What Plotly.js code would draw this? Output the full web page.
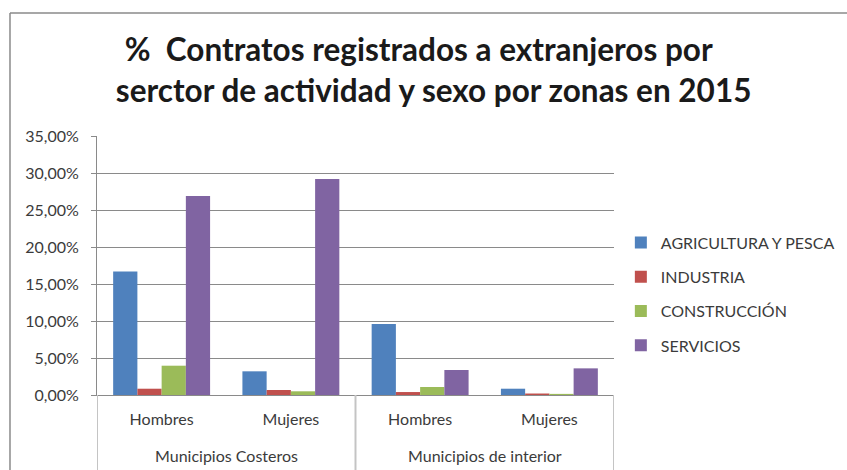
<!DOCTYPE html>
<html>
<head>
<meta charset="utf-8">
<script src="https://cdn.plot.ly/plotly-3.0.1.min.js"></script>
<style>html,body{margin:0;padding:0;background:#fff}#chart{width:847px;height:470px}</style>
</head>
<body>
<div id="chart"></div>
<script>
var zonas = ["Municipios Costeros", "Municipios de interior"];
var sexos = ["Hombres", "Mujeres", "Hombres", "Mujeres"];
var seriesNames = ["AGRICULTURA Y PESCA", "INDUSTRIA", "CONSTRUCCIÓN", "SERVICIOS"];
var agricultura = [0.167, 0.032, 0.096, 0.0085];
var industria = [0.0085, 0.0068, 0.004, 0.002];
var construccion = [0.0396, 0.005, 0.0108, 0.0015];
var servicios = [0.269, 0.292, 0.0338, 0.036];
var yTicks = [0, 0.05, 0.10, 0.15, 0.20, 0.25, 0.30, 0.35];
var colors = ["#4F81BD", "#C0504D", "#9BBB59", "#8064A2"];

var xPos = sexos.map(function (_, i) { return i; });
var allValues = [agricultura, industria, construccion, servicios];
var traces = allValues.map(function (vals, i) {
  return {
    type: "bar",
    name: seriesNames[i],
    x: xPos,
    y: vals,
    marker: {color: colors[i]},
    legendgroup: "g" + i,
    hoverinfo: "skip"
  };
});

var fontFam = "Lato, 'Open Sans', sans-serif";
var axisFont = {family: fontFam, size: 16, color: "#3b3b3b"};
var grid = "#8a8a8a";
var divider = "#c4c4c4";

var annotations = zonas.map(function (z, k) {
  return {
    text: z, xref: "x", yref: "paper",
    x: 2 * k + 0.5, y: -0.2317, xanchor: "center", yanchor: "middle",
    showarrow: false, font: axisFont
  };
});

var shapes = [
  {type: "line", xref: "paper", yref: "paper", x0: -0.1683, x1: -0.1683, y0: 1.475, y1: -0.4, line: {color: "#8a8a8a", width: 1.5}},
  {type: "line", xref: "paper", yref: "paper", x0: -0.1683, x1: 1.6, y0: 1.475, y1: 1.475, line: {color: "#8a8a8a", width: 1.5}}
];
[-0.5, 1.5, 3.5].forEach(function (xv) {
  shapes.push({type: "line", xref: "x", yref: "paper", x0: xv, x1: xv, y0: 0, y1: -0.35, line: {color: divider, width: 2}});
});

var layout = {
  width: 847, height: 470,
  margin: {l: 97, r: 233, t: 136, b: 75},
  paper_bgcolor: "#fff", plot_bgcolor: "#fff",
  separators: ",.",
  barmode: "group",
  bargap: 0.25,
  bargroupgap: 0,
  title: {
    text: "%  Contratos registrados a extranjeros por&nbsp;&nbsp;&nbsp;&nbsp;<br>serctor de actividad y sexo por zonas en 2015",
    font: {family: fontFam, size: 31.5, color: "#1a1a1a", weight: "bold"},
    x: 0.512, xref: "container", xanchor: "center",
    y: 0.87, yref: "container", yanchor: "top"
  },
  xaxis: {
    range: [-0.5, 3.5],
    tickvals: xPos,
    ticktext: sexos,
    tickfont: axisFont,
    showline: true, linecolor: grid, linewidth: 1,
    showgrid: false, zeroline: false,
    ticks: "", ticklabelstandoff: 10, fixedrange: true
  },
  yaxis: {
    range: [0, 0.35],
    tickvals: yTicks,
    tickformat: ".2%",
    tickfont: axisFont,
    showgrid: true, gridcolor: grid, gridwidth: 1,
    showline: true, linecolor: grid, linewidth: 1,
    ticks: "outside", ticklen: 5, tickcolor: grid,
    ticklabelstandoff: 9,
    zeroline: false, fixedrange: true
  },
  legend: {
    xref: "container", x: 0.733, xanchor: "left",
    y: 0.39, yanchor: "middle",
    font: {family: fontFam, size: 16, color: "#3b3b3b"},
    tracegroupgap: 10.5, traceorder: "grouped",
    bgcolor: "rgba(0,0,0,0)"
  },
  showlegend: true,
  annotations: annotations,
  shapes: shapes
};

Plotly.newPlot("chart", traces, layout, {displayModeBar: false, staticPlot: true});
</script>
</body>
</html>
